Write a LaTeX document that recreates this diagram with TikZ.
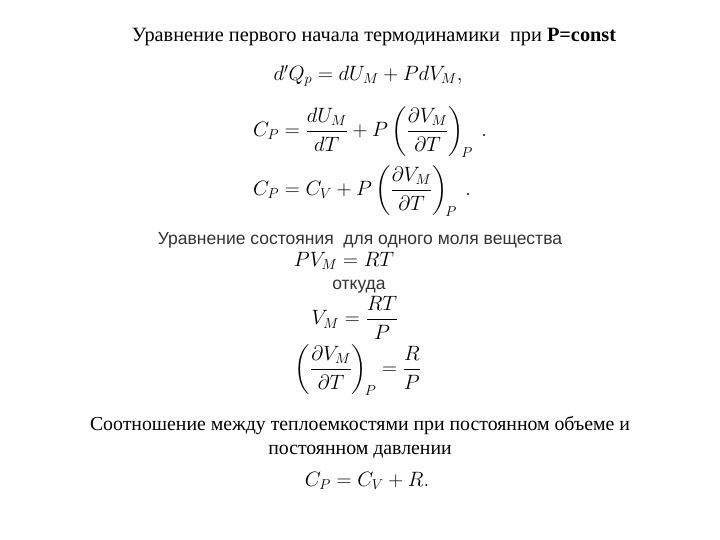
\documentclass[tikz,border=0pt]{standalone}
\usepackage{fontspec}
\usepackage{amsmath}
\setmainfont{Liberation Serif}
\newfontfamily\arialf{Liberation Sans}
\tikzset{
  ttl/.style={font=\fontsize{20.3}{22}\selectfont, inner sep=0pt},
  sans/.style={font=\arialf\fontsize{17.5}{20}\selectfont, text=black!80, inner sep=0pt},
  eq/.style={font=\fontsize{20}{24}\selectfont, inner sep=0pt},
  body/.style={font=\fontsize{19.8}{24}\selectfont, inner sep=0pt, align=center}
}
\begin{document}
\begin{tikzpicture}[x=1pt,y=-1pt]
\useasboundingbox (0,0) rectangle (720,540);
\node[ttl] (t) at (374,37) {Уравнение первого начала термодинамики \ при \textbf{P=const}};
\node[eq] (e1) at (368,76) {$d'Q_p = dU_M + P dV_M,$};
\node[eq] (e2) at (370,132) {$C_P = \dfrac{dU_M}{dT} + P\left(\dfrac{\partial V_M}{\partial T}\right)_{\!P}\ .$};
\node[eq] (e3) at (362,191) {$C_P = C_V + P\left(\dfrac{\partial V_M}{\partial T}\right)_{\!P}\ .$};
\node[sans] (s) at (360,240) {Уравнение состояния \ для одного моля вещества};
\node[eq] (e4) at (344,261) {$PV_M = RT$};
\node[sans] (o) at (359,287) {откуда};
\node[eq] (e5) at (355,318) {$V_M = \dfrac{RT}{P}$};
\node[eq] (e6) at (358,370) {$\left(\dfrac{\partial V_M}{\partial T}\right)_{\!P} = \dfrac{R}{P}$};
\node[body] (b) at (360,437) {Соотношение между теплоемкостями при постоянном объеме и\\постоянном давлении};
\node[eq] (e7) at (367,481) {$C_P = C_V + R.$};
\end{tikzpicture}
\end{document}
